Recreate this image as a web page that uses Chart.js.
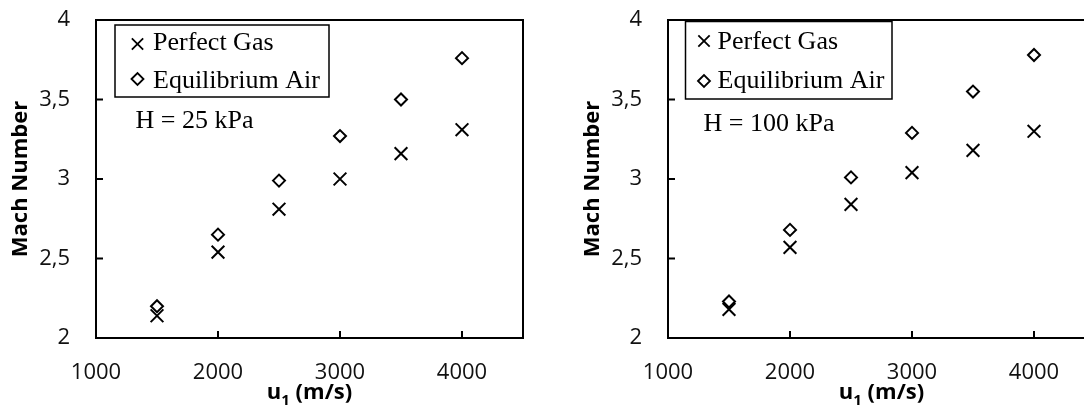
<!DOCTYPE html>
<html>
<head>
<meta charset="utf-8">
<script src="https://cdn.jsdelivr.net/npm/chart.js"></script>
<style>
  html, body { margin: 0; padding: 0; background: #fff; }
  #wrap { position: relative; width: 1084px; height: 409px; overflow: hidden; }
  canvas { position: absolute; top: 0; }
  #izq { left: 0; }
  #der { left: 572px; }
</style>
</head>
<body>
<div id="wrap">
  <canvas id="izq" width="545" height="409"></canvas>
  <canvas id="der" width="545" height="409"></canvas>
</div>
<script>
// u1 (m/s)
const velocidades = [1500, 2000, 2500, 3000, 3500, 4000];
// H = 25 kPa
const gasPerfecto25 = [2.14, 2.54, 2.81, 3.00, 3.16, 3.31];
const aireEquilibrio25 = [2.20, 2.65, 2.99, 3.27, 3.50, 3.76];
// H = 100 kPa
const gasPerfecto100 = [2.18, 2.57, 2.84, 3.04, 3.18, 3.30];
const aireEquilibrio100 = [2.23, 2.68, 3.01, 3.29, 3.55, 3.78];
// etiquetas de los ejes
const ticksX = [1000, 2000, 3000, 4000];
const ticksY = [2, 2.5, 3, 3.5, 4];

Chart.defaults.font.family = '"Open Sans"';
Chart.defaults.color = '#111';

const puntos = (xs, ys) => xs.map((v, i) => ({ x: v, y: ys[i] }));

// marco, marcas hacia dentro, leyenda y textos
const marco = {
  id: 'marco',
  afterDraw(chart, args, opts) {
    const ctx = chart.ctx;
    const { left, right, top, bottom } = chart.chartArea;
    const sx = chart.scales.x, sy = chart.scales.y;
    ctx.save();
    ctx.strokeStyle = '#000';
    ctx.lineWidth = 2;
    ctx.strokeRect(left, top, right - left, bottom - top);
    ctx.beginPath();
    sy.ticks.forEach(t => {
      if (t.value > sy.min && t.value < sy.max) {
        const p = sy.getPixelForValue(t.value);
        ctx.moveTo(left, p); ctx.lineTo(left + 7, p);
      }
    });
    sx.ticks.forEach(t => {
      if (t.value > sx.min && t.value < sx.max) {
        const p = sx.getPixelForValue(t.value);
        ctx.moveTo(p, bottom); ctx.lineTo(p, bottom - 7);
      }
    });
    ctx.stroke();

    // leyenda
    const L = opts.leyenda;
    const bx = left + L.dx, by = top + L.dy;
    ctx.lineWidth = 1.5;
    ctx.strokeRect(bx, by, L.w, L.h);
    ctx.font = '26px "Liberation Serif"';
    ctx.textBaseline = 'alphabetic';
    ctx.textAlign = 'left';
    chart.data.datasets.forEach((ds, i) => {
      ctx.fillStyle = 'rgba(0,0,0,0)';
      ctx.strokeStyle = '#000';
      ctx.lineWidth = 1.8;
      Chart.helpers.drawPoint(ctx, {
        pointStyle: ds.pointStyle, radius: L.radios[i], borderWidth: 1.8, rotation: 0
      }, bx + L.symX, by + L.symY[i]);
      ctx.fillStyle = '#000';
      ctx.fillText(ds.label, bx + L.textX, by + L.base[i]);
    });

    // nota de presión
    ctx.fillText(opts.nota.texto, left + opts.nota.dx, top + opts.nota.dy);

    // título del eje x con subíndice
    const T = opts.tituloX;
    ctx.font = 'bold 22px "Open Sans"';
    const w1 = ctx.measureText(T.base).width;
    const w3 = ctx.measureText(T.resto).width;
    ctx.font = 'bold 15px "Open Sans"';
    const w2 = ctx.measureText(T.sub).width;
    let x = (left + right) / 2 - (w1 + w2 + w3) / 2;
    const yb = bottom + T.dy;
    ctx.font = 'bold 22px "Open Sans"';
    ctx.fillText(T.base, x, yb);
    x += w1;
    ctx.font = 'bold 15px "Open Sans"';
    ctx.fillText(T.sub, x, yb + 6);
    x += w2;
    ctx.font = 'bold 22px "Open Sans"';
    ctx.fillText(T.resto, x, yb);
    ctx.restore();
  }
};

function grafica(id, perfecto, equilibrio, leyenda, nota) {
  return new Chart(document.getElementById(id), {
    type: 'scatter',
    data: {
      datasets: [{
        label: 'Perfect Gas',
        data: puntos(velocidades, perfecto),
        pointStyle: 'crossRot',
        pointRadius: 9,
        pointBorderWidth: 2,
        borderColor: '#000',
        backgroundColor: 'rgba(0,0,0,0)'
      }, {
        label: 'Equilibrium Air',
        data: puntos(velocidades, equilibrio),
        pointStyle: 'rectRot',
        pointRadius: 6,
        pointBorderWidth: 2,
        borderColor: '#000',
        backgroundColor: 'rgba(0,0,0,0)'
      }]
    },
    options: {
      responsive: false,
      animation: false,
      layout: { padding: { top: 20, right: 22, left: 0, bottom: 0 } },
      scales: {
        x: {
          type: 'linear',
          min: 1000,
          max: 4500,
          afterBuildTicks: s => { s.ticks = ticksX.map(v => ({ value: v })); },
          afterFit: s => { s.height = 71; s.paddingLeft = 0; s.paddingRight = 0; },
          grid: { display: false, drawTicks: false },
          border: { display: false },
          ticks: {
            padding: 22,
            font: { size: 22 },
            maxRotation: 0,
            callback: v => String(v)
          }
        },
        y: {
          min: 2,
          max: 4,
          afterBuildTicks: s => { s.ticks = ticksY.map(v => ({ value: v })); },
          afterFit: s => { s.width = 96; s.paddingTop = 0; s.paddingBottom = 0; },
          grid: { display: false, drawTicks: false },
          border: { display: false },
          ticks: {
            padding: 26,
            font: { size: 22 },
            callback: v => String(v).replace('.', ',')
          },
          title: {
            display: true,
            text: 'Mach Number',
            font: { size: 22, weight: 'bold' },
            color: '#000',
            padding: { top: 8, bottom: 0 }
          }
        }
      },
      plugins: {
        legend: { display: false },
        tooltip: { enabled: false },
        marco: {
          leyenda: leyenda,
          nota: nota,
          tituloX: { base: 'u', sub: '1', resto: ' (m/s)', dy: 61 }
        }
      }
    },
    plugins: [marco]
  });
}

grafica('izq', gasPerfecto25, aireEquilibrio25,
  { dx: 19, dy: 5, w: 214, h: 72, symX: 22.5, symY: [19, 54], radios: [8, 6], textX: 38, base: [25, 63] },
  { texto: 'H = 25 kPa', dx: 39.5, dy: 108 });

grafica('der', gasPerfecto100, aireEquilibrio100,
  { dx: 17.5, dy: 1.5, w: 206.5, h: 77.5, symX: 18.5, symY: [19.5, 59.5], radios: [8, 6], textX: 32, base: [27, 66] },
  { texto: 'H = 100 kPa', dx: 35.5, dy: 111 });
</script>
</body>
</html>
